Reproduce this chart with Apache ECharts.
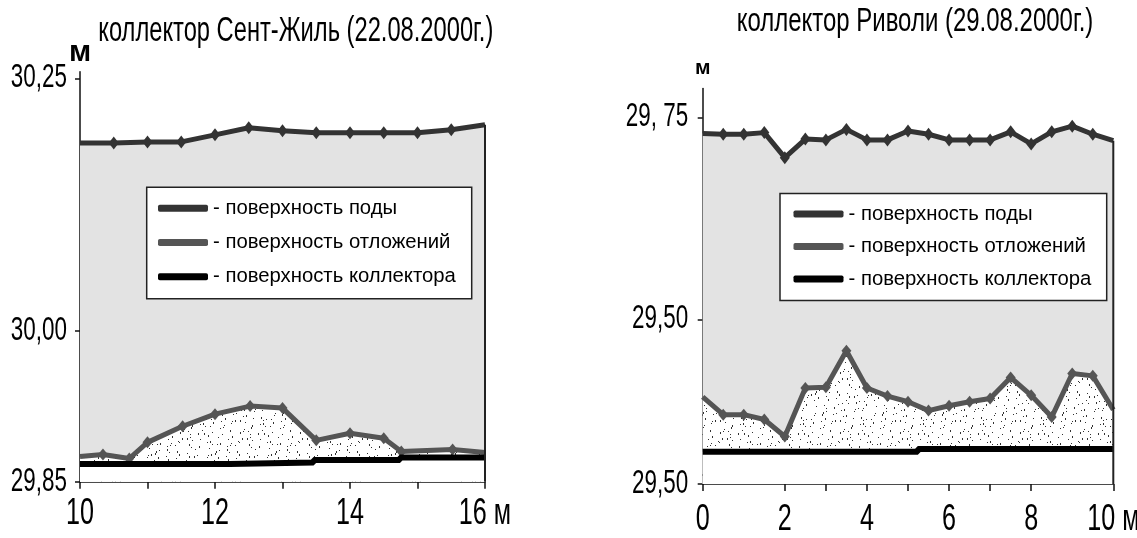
<!DOCTYPE html>
<html><head><meta charset="utf-8">
<script src="https://cdn.jsdelivr.net/npm/echarts@6/dist/echarts.min.js"></script>
<style>html,body{margin:0;padding:0;background:#fff}#c{width:1137px;height:538px}</style>
</head><body><div id="c"></div>
<script>
// ---------- Left chart: коллектор Сент-Жиль (22.08.2000г.) ----------
const leftTitle = 'коллектор Сент-Жиль (22.08.2000г.)';
const leftWaterX = [10, 10.5, 11, 11.5, 12, 12.5, 13, 13.5, 14, 14.5, 15, 15.5, 16];
const leftWaterY = [30.186, 30.186, 30.187, 30.187, 30.194, 30.201, 30.198, 30.196, 30.196, 30.196, 30.196, 30.199, 30.204];
const leftSedX = [10, 10.34, 10.73, 11, 11.52, 12, 12.52, 13, 13.5, 14, 14.5, 14.76, 15.52, 16];
const leftSedY = [29.875, 29.877, 29.873, 29.889, 29.905, 29.917, 29.925, 29.923, 29.891, 29.898, 29.893, 29.880, 29.882, 29.879];
const leftColX = [10, 12.22, 12.22, 13.46, 13.46, 14.74, 14.74, 16];
const leftColY = [29.8675, 29.8675, 29.869, 29.869, 29.8715, 29.8715, 29.874, 29.874];
const leftYTicks = [29.85, 30.00, 30.25];
const leftYLabels = ['29,85', '30,00', '30,25'];
const leftXTicks = [10, 11, 12, 13, 14, 15, 16];
const leftXLabelVals = [10, 12, 14, 16];
const leftXLabels = ['10', '12', '14', '16 м'];

// ---------- Right chart: коллектор Риволи (29.08.2000г.) ----------
const rightTitle = 'коллектор Риволи (29.08.2000г.)';
const rightX = [0, 0.5, 1, 1.5, 2, 2.5, 3, 3.5, 4, 4.5, 5, 5.5, 6, 6.5, 7, 7.5, 8, 8.5, 9, 9.5, 10];
const rightWaterY = [29.730, 29.729, 29.729, 29.731, 29.700, 29.723, 29.722, 29.735, 29.722, 29.722, 29.733, 29.729, 29.722, 29.722, 29.722, 29.732, 29.717, 29.732, 29.739, 29.729, 29.721];
const rightSedY = [29.404, 29.382, 29.382, 29.376, 29.355, 29.415, 29.416, 29.461, 29.415, 29.405, 29.398, 29.387, 29.393, 29.398, 29.402, 29.428, 29.406, 29.379, 29.433, 29.430, 29.388];
const rightColX = [0, 5.24, 5.24, 10];
const rightColY = [29.336, 29.336, 29.3395, 29.3395];
const rightYTicks = [29.2962, 29.50, 29.75];
const rightYLabels = ['29,50', '29,50', '29, 75'];
const rightXTicks = [0, 2, 3, 4, 5, 6, 7, 8, 10];
const rightXLabelVals = [0, 2, 4, 6, 8, 10];
const rightXLabels = ['0', '2', '4', '6', '8', '10 м'];

const seriesNames = ['поверхность поды', 'поверхность отложений', 'поверхность коллектора'];
const unit = 'м';

const FAM = '"Liberation Sans", Arimo, Arial, sans-serif';
const C_WATER = '#333333', C_SED = '#555555', C_COL = '#000000', C_FILL = '#e3e3e3', C_TXT = '#000000';

const mctx = document.createElement('canvas').getContext('2d');
function measure(text, font) { mctx.font = font; return mctx.measureText(text).width; }

// stipple texture for deposits
function makeStipple() {
  const cv = document.createElement('canvas');
  cv.width = 60; cv.height = 60;
  const g = cv.getContext('2d');
  g.fillStyle = '#ffffff'; g.fillRect(0, 0, 60, 60);
  g.fillStyle = '#333333';
  for (let i = 0; i < 110; i++) {
    const x = (i * 23 + Math.floor(i / 7) * 11) % 60;
    const y = (i * 41 + (i % 5) * 7 + Math.floor(i / 11) * 3) % 60;
    g.fillRect(x, y, 1, (i % 3 === 0) ? 2 : 1);
  }
  return cv;
}
const stipple = { image: makeStipple(), repeat: 'repeat' };

function zip(xs, ys, hideEnds) {
  return xs.map((x, i) => {
    const item = { value: [x, ys[i]] };
    if (hideEnds && (i === 0 || i === xs.length - 1)) item.symbol = 'none';
    return item;
  });
}

function makeSeries(idx, wx, wy, sx, sy, cx, cy, xMax, yMin) {
  return [
    { name: seriesNames[0], type: 'line', xAxisIndex: idx, yAxisIndex: idx, data: zip(wx, wy, true),
      lineStyle: { color: C_WATER, width: 5, join: 'round' }, itemStyle: { color: C_WATER },
      areaStyle: { color: C_FILL, opacity: 1, origin: 'start' },
      symbol: 'diamond', symbolSize: [10, 13], showSymbol: true, animation: false, z: 2 },
    { name: seriesNames[1], type: 'line', xAxisIndex: idx, yAxisIndex: idx, data: zip(sx, sy, true),
      lineStyle: { color: C_SED, width: 5, join: 'round' }, itemStyle: { color: C_SED },
      areaStyle: { color: stipple, opacity: 1, origin: 'start' },
      symbol: 'diamond', symbolSize: [10, 12], showSymbol: true, animation: false, z: 3 },
    { name: seriesNames[2], type: 'line', xAxisIndex: idx, yAxisIndex: idx, data: zip(cx, cy, false),
      lineStyle: { color: C_COL, width: 6 }, itemStyle: { color: C_COL },
      areaStyle: { color: '#ffffff', opacity: 1, origin: 'start' },
      symbol: 'none', animation: false, z: 4 },
    { name: 'border', type: 'line', xAxisIndex: idx, yAxisIndex: idx,
      data: [[xMax, yMin], [xMax, wy[wy.length - 1]]],
      lineStyle: { color: '#222', width: 2 }, symbol: 'none', animation: false, z: 5 }
  ];
}

function xAxisCfg(idx, min, max, ticks) {
  return { type: 'value', gridIndex: idx, min: min, max: max,
    axisLine: { show: true, onZero: false, lineStyle: { color: '#111', width: 1.5 } },
    axisTick: { show: true, length: 7, customValues: ticks, lineStyle: { color: '#111', width: 1.5 } },
    axisLabel: { show: false }, splitLine: { show: false } };
}
function yAxisCfg(idx, min, max, ticks, nameSize, nameGap) {
  return { type: 'value', gridIndex: idx, min: min, max: max,
    name: unit, nameLocation: 'end', nameGap: nameGap,
    nameTextStyle: { fontFamily: FAM, fontSize: nameSize, fontWeight: 'bold', color: C_TXT },
    axisLine: { show: true, onZero: false, lineStyle: { color: '#111', width: 1.5 } },
    axisTick: { show: true, length: 5, customValues: ticks, lineStyle: { color: '#111', width: 1.5 } },
    axisLabel: { show: false }, splitLine: { show: false } };
}

// legend sizing: fit longest entry to the box width seen in the picture
const legendText = seriesNames.map(n => '- ' + n);
const longest = legendText.reduce((a, b) => measure(a, '20px ' + FAM) > measure(b, '20px ' + FAM) ? a : b);
const LEG_FS = 20 * 243 / measure(longest, '20px ' + FAM);
const LEG_TW = measure(longest, LEG_FS + 'px ' + FAM);
function legendCfg(left, top, right, gap, padTop, padLeft, padBottom) {
  const padRight = Math.max(2, right - left - padLeft - 50 - 5 - LEG_TW);
  return { show: true, orient: 'vertical', left: left, top: top, selectedMode: false,
    data: [
      { name: seriesNames[0], itemStyle: { color: C_WATER } },
      { name: seriesNames[1], itemStyle: { color: C_SED } },
      { name: seriesNames[2], itemStyle: { color: C_COL } }
    ],
    icon: 'roundRect', itemWidth: 50, itemHeight: 7, itemGap: gap,
    padding: [padTop, padRight, padBottom, padLeft],
    backgroundColor: '#fff', borderColor: '#222', borderWidth: 1.5, borderRadius: 0,
    formatter: '- {name}',
    textStyle: { fontFamily: FAM, fontSize: LEG_FS, color: C_TXT, lineHeight: 24 } };
}

const chart = echarts.init(document.getElementById('c'), null, { renderer: 'canvas' });
chart.setOption({
  animation: false,
  backgroundColor: '#ffffff',
  grid: [
    { left: 80, top: 71.7, width: 405, height: 410 },
    { left: 702.7, top: 88.5, width: 410.6, height: 395.5 }
  ],
  xAxis: [ xAxisCfg(0, 10, 16, leftXTicks), xAxisCfg(1, 0, 10, rightXTicks) ],
  yAxis: [ yAxisCfg(0, 29.85, 30.2566, leftYTicks, 30, 4), yAxisCfg(1, 29.2962, 29.7856, rightYTicks, 21, 10) ],
  legend: [
    legendCfg(146.7, 187.3, 471.7, 10.2, 9, 11.3, 10),
    legendCfg(780, 193.5, 1106.7, 8.5, 8.5, 13.5, 9.5)
  ],
  series: [].concat(
    makeSeries(0, leftWaterX, leftWaterY, leftSedX, leftSedY, leftColX, leftColY, 16, 29.85),
    makeSeries(1, rightX, rightWaterY, rightX, rightSedY, rightColX, rightColY, 10, 29.2962)
  )
});

// condensed (narrow) text, as in the scanned figure
function gText(text, x, y, size, weight, align, sx) {
  const font = weight + ' ' + size + 'px ' + FAM;
  return { type: 'text', x: x, y: y, scaleX: sx, silent: true, z: 100,
    style: { text: text, font: font, fill: C_TXT, textAlign: align, textVerticalAlign: 'middle', align: align, verticalAlign: 'middle' } };
}
const NARROW = 0.68;
const els = [];
// titles, fitted to the width they take in the picture
els.push(gText(leftTitle, 295.8, 31, 35, 'normal', 'center', 395 / measure(leftTitle, 'normal 35px ' + FAM)));
els.push(gText(rightTitle, 915, 22, 33, 'normal', 'center', 356.7 / measure(rightTitle, 'normal 33px ' + FAM)));
// axis tick labels placed through the chart's own scales
function addAxisLabels(gi, xMin, yMin, xVals, xLabels, yVals, yLabels, xDy, yDx) {
  const q = { xAxisIndex: gi, yAxisIndex: gi };
  xVals.forEach((v, i) => {
    const p = chart.convertToPixel(q, [v, yMin]);
    els.push(gText(xLabels[i], p[0], p[1] + xDy, 37, 'normal', 'center', NARROW));
  });
  yVals.forEach((v, i) => {
    const p = chart.convertToPixel(q, [xMin, v]);
    els.push(gText(yLabels[i], p[0] - yDx, p[1], 33, 'normal', 'right', NARROW));
  });
}
addAxisLabels(0, 10, 29.85, leftXLabelVals, leftXLabels, leftYTicks, leftYLabels, 32, 13);
addAxisLabels(1, 0, 29.2962, rightXLabelVals, rightXLabels, rightYTicks, rightYLabels, 36, 14.5);
chart.setOption({ graphic: { elements: els } });
</script></body></html>
